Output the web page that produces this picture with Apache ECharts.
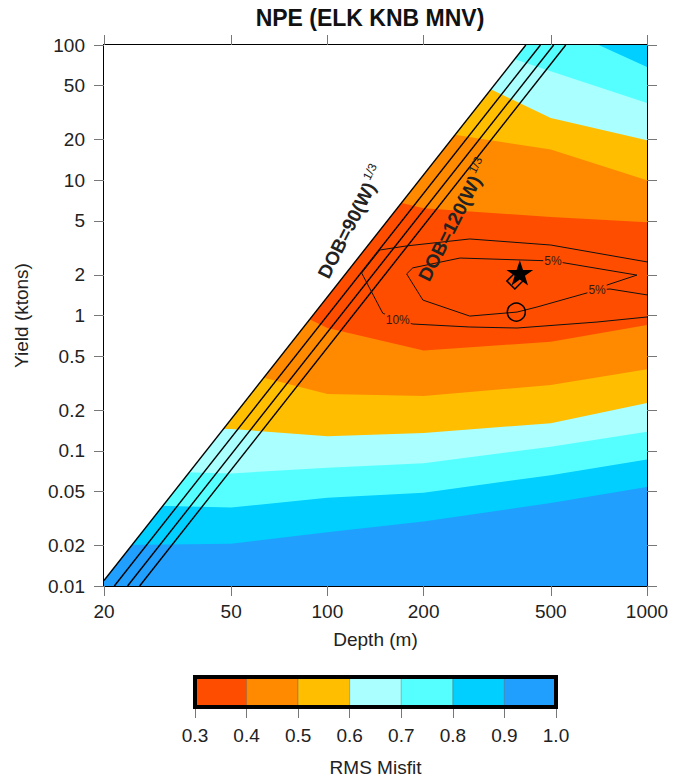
<!DOCTYPE html>
<html><head><meta charset="utf-8">
<script src="https://cdn.jsdelivr.net/npm/echarts@6/dist/echarts.min.js"></script>
<style>html,body{margin:0;padding:0;background:#fff}#c{width:673px;height:780px}</style>
</head><body><div id="c"></div>
<script>
// ---------- data ----------
const depths = [20, 50, 100, 200, 500, 1000];
// contour boundaries (yield, kt) at each depth; upper = above misfit minimum, lower = below
const upper08 = [300, 300, 300, 300, 145, 68.8];
const upper07 = [300, 300, 300, 131, 64, 37.2];
const upper06 = [300, 300, 300, 81.5, 28.9, 19.8];
const upper05 = [100, 60, 30.3, 23.5, 16.9, 10.0];
const upper04 = [50, 20, 9.2, 6.2, 5.35, 4.9];
const lower04 = [3, 1.8, 0.81, 0.55, 0.64, 0.85];
const lower05 = [0.45, 0.40, 0.263, 0.254, 0.306, 0.40];
const lower06 = [0.147, 0.145, 0.128, 0.135, 0.160, 0.225];
const lower07 = [0.072, 0.068, 0.075, 0.081, 0.107, 0.138];
const lower08 = [0.040, 0.038, 0.045, 0.049, 0.066, 0.086];
const lower09 = [0.020, 0.0205, 0.025, 0.030, 0.041, 0.054];

const levels = [0.3, 0.4, 0.5, 0.6, 0.7, 0.8, 0.9, 1.0];
const bandColors = ['rgb(255,77,0)', 'rgb(255,138,0)', 'rgb(255,191,0)', 'rgb(170,255,255)', 'rgb(85,255,255)', 'rgb(0,207,255)', 'rgb(32,159,255)'];

const xRange = [20, 1000];
const yRange = [0.01, 100];
const xTicks = [20, 50, 100, 200, 500, 1000];
const yTicks = [0.01, 0.02, 0.05, 0.1, 0.2, 0.5, 1, 2, 5, 10, 20, 50, 100];
const dobCoeffs = [90, 100, 110, 120];

const contour10 = [[1000, 2.49], [500, 3.32], [279, 3.68], [177, 3.27], [146, 3.05], [128, 2.06], [149, 1.04], [166, 0.93], [185, 0.865], [279, 0.822], [392, 0.808], [698, 0.895], [1000, 0.975]];
const contour5 = [[1000, 1.42], [766, 1.57], [698, 1.54], [630, 1.44], [453, 1.156], [392, 1.06], [279, 0.99], [199, 1.30], [177, 2.03], [185, 2.25], [260, 2.66], [508, 2.53], [930, 1.99], [750, 1.68], [698, 1.54]];
const contourLabels = [[508, 2.53, '5%'], [698, 1.54, '5%'], [166, 0.93, '10%']];
const starPt = [400, 2.0];
const diamondPt = [386, 1.80];
const circlePt = [390, 1.06];
const dobLabels = [[118.5, 4.91, '90'], [249, 5.08, '120']];

// ---------- chart ----------
const FONT = 'Liberation Sans, Arial, Helvetica, sans-serif';
const TXT = '#222';
const FS = 19;
const chart = echarts.init(document.getElementById('c'), null, {renderer: 'svg'});

function fmt(v) { return String(+(+v).toPrecision(6)); }

function band(vals, colorIdx) {
  return {
    type: 'line', xAxisIndex: 0, yAxisIndex: 0,
    data: depths.map((d, i) => [d, vals[i]]),
    symbol: 'none', silent: true, clip: true,
    lineStyle: {width: 0, opacity: 0},
    areaStyle: {color: bandColors[colorIdx], opacity: 1, origin: 'start'}
  };
}

const series = [];
series.push({
  type: 'line', xAxisIndex: 0, yAxisIndex: 0, data: [[xRange[0], yRange[1]], [xRange[1], yRange[1]]],
  symbol: 'none', silent: true, lineStyle: {width: 0, opacity: 0},
  areaStyle: {color: bandColors[5], opacity: 1, origin: 'start'}
});
series.push(band(upper08, 4));
series.push(band(upper07, 3));
series.push(band(upper06, 2));
series.push(band(upper05, 1));
series.push(band(upper04, 0));
series.push(band(lower04, 1));
series.push(band(lower05, 2));
series.push(band(lower06, 3));
series.push(band(lower07, 4));
series.push(band(lower08, 5));
series.push(band(lower09, 6));

// white excluded region above DOB = 90 W^(1/3)
const c0 = dobCoeffs[0];
series.push({
  type: 'line', xAxisIndex: 0, yAxisIndex: 0,
  data: [[xRange[0], Math.pow(xRange[0] / c0, 3)], [c0 * Math.cbrt(yRange[1]), yRange[1]]],
  symbol: 'none', silent: true, lineStyle: {width: 0, opacity: 0},
  areaStyle: {color: '#ffffff', opacity: 1, origin: 'end'}
});

// DOB lines
dobCoeffs.forEach(c => {
  let d0 = c * Math.cbrt(yRange[0]), w0 = yRange[0];
  if (d0 < xRange[0]) { d0 = xRange[0]; w0 = Math.pow(d0 / c, 3); }
  series.push({
    type: 'line', xAxisIndex: 0, yAxisIndex: 0,
    data: [[d0, w0], [c * Math.cbrt(yRange[1]), yRange[1]]],
    symbol: 'none', silent: true, lineStyle: {color: '#000', width: 1.4}
  });
});

// contour lines
[contour10, contour5].forEach(cn => {
  series.push({
    type: 'line', xAxisIndex: 0, yAxisIndex: 0, data: cn,
    symbol: 'none', silent: true, lineStyle: {color: '#111', width: 1}
  });
});

// contour labels
series.push({
  type: 'custom', xAxisIndex: 0, yAxisIndex: 0, silent: true, z: 10,
  data: contourLabels.map(a => [a[0], a[1]]),
  renderItem: (params, api) => {
    const p = api.coord([api.value(0), api.value(1)]);
    return {type: 'text', x: p[0], y: p[1], style: {text: contourLabels[params.dataIndex][2], fontSize: 12, fontFamily: FONT,
      fill: '#3a1a10', align: 'center', verticalAlign: 'middle', backgroundColor: bandColors[0], padding: [0, 1]}};
  }
});

// markers: diamond, circle, star
series.push({
  type: 'custom', xAxisIndex: 0, yAxisIndex: 0, silent: true, z: 10,
  data: [diamondPt],
  renderItem: (params, api) => {
    const p = api.coord([api.value(0), api.value(1)]);
    const r = 8;
    return {type: 'polygon', shape: {points: [[p[0], p[1] - r], [p[0] + r, p[1]], [p[0], p[1] + r], [p[0] - r, p[1]]]},
      style: {fill: 'none', stroke: '#000', lineWidth: 1.5}};
  }
});
series.push({
  type: 'custom', xAxisIndex: 0, yAxisIndex: 0, silent: true, z: 10,
  data: [circlePt],
  renderItem: (params, api) => {
    const p = api.coord([api.value(0), api.value(1)]);
    return {type: 'circle', shape: {cx: p[0], cy: p[1], r: 9}, style: {fill: 'none', stroke: '#000', lineWidth: 1.5}};
  }
});
series.push({
  type: 'custom', xAxisIndex: 0, yAxisIndex: 0, silent: true, z: 11,
  data: [starPt],
  renderItem: (params, api) => {
    const p = api.coord([api.value(0), api.value(1)]);
    const s = 27;
    return {type: 'path', shape: {pathData: 'M50,0 L61.8,35.1 L98.9,35.1 L68.9,56.8 L80.2,91.9 L50,70.2 L19.8,91.9 L31.1,56.8 L1.1,35.1 L38.2,35.1 Z',
      x: p[0] - s / 2, y: p[1] - s / 2 - 1, width: s, height: s * 0.93, layout: 'center'}, style: {fill: '#000'}};
  }
});

// DOB labels
series.push({
  type: 'custom', xAxisIndex: 0, yAxisIndex: 0, silent: true, z: 10,
  data: dobLabels.map(a => [a[0], a[1]]),
  renderItem: (params, api) => {
    const p = api.coord([api.value(0), api.value(1)]);
    return {type: 'text', x: p[0], y: p[1], rotation: 63 * Math.PI / 180,
      style: {text: '{a|DOB=' + dobLabels[params.dataIndex][2] + '(W)}{b|1/3}', align: 'center', verticalAlign: 'middle',
        rich: {
          a: {fontSize: 19, fontWeight: 'bold', fill: TXT, fontFamily: FONT, lineHeight: 24},
          b: {fontSize: 12, fill: TXT, fontFamily: FONT, verticalAlign: 'top', lineHeight: 13, padding: [0, 0, 0, 2]}
        }}};
  }
});

// colorbar
series.push({
  type: 'custom', xAxisIndex: 2, yAxisIndex: 2, silent: true,
  data: bandColors.map((c, i) => [levels[i], levels[i + 1], i]),
  renderItem: (params, api) => {
    const p0 = api.coord([api.value(0), 0]);
    const p1 = api.coord([api.value(1), 1]);
    return {type: 'rect', shape: {x: p0[0], y: p1[1], width: p1[0] - p0[0], height: p0[1] - p1[1]},
      style: {fill: bandColors[api.value(2)], stroke: 'rgba(0,0,0,0.3)', lineWidth: 0.6}};
  }
});
series.push({
  type: 'custom', xAxisIndex: 2, yAxisIndex: 2, silent: true, z: 5,
  data: [[levels[0], levels[levels.length - 1]]],
  renderItem: (params, api) => {
    const p0 = api.coord([api.value(0), 0]);
    const p1 = api.coord([api.value(1), 1]);
    return {type: 'rect', shape: {x: p0[0], y: p1[1], width: p1[0] - p0[0], height: p0[1] - p1[1]},
      style: {fill: 'none', stroke: '#000', lineWidth: 4}};
  }
});

const tickStyle = {lineStyle: {color: '#777', width: 1}, length: 10, inside: false};
const lineAxis = {show: true, lineStyle: {color: '#000', width: 2}};

const option = {
  animation: false,
  backgroundColor: '#fff',
  textStyle: {fontFamily: FONT},
  graphic: [{type: 'text', x: 370, y: 6, style: {text: 'NPE (ELK KNB MNV)', fontSize: 23, fontWeight: 'bold', fill: '#111', fontFamily: FONT, textAlign: 'center'}}],
  grid: [
    {left: 104, right: 26, top: 45, bottom: 194},
    {left: 195, width: 361, top: 677, height: 30}
  ],
  xAxis: [
    {type: 'log', logBase: 10, gridIndex: 0, min: xRange[0], max: xRange[1], position: 'bottom',
     axisLine: lineAxis, splitLine: {show: false}, minorTick: {show: false},
     axisTick: Object.assign({customValues: xTicks}, tickStyle),
     axisLabel: {customValues: xTicks, formatter: fmt, fontSize: FS, color: TXT, margin: 16, fontFamily: FONT},
     name: 'Depth (m)', nameLocation: 'middle', nameGap: 44, nameTextStyle: {fontSize: FS, color: TXT, fontFamily: FONT}},
    {type: 'log', logBase: 10, gridIndex: 0, min: xRange[0], max: xRange[1], position: 'top',
     axisLine: lineAxis, splitLine: {show: false},
     axisTick: Object.assign({customValues: xTicks}, tickStyle),
     axisLabel: {show: false, customValues: xTicks}},
    {type: 'value', gridIndex: 1, min: levels[0], max: levels[levels.length - 1], interval: 0.1,
     axisLine: {show: false}, splitLine: {show: false},
     axisTick: {show: true, length: 11, inside: false, lineStyle: {color: '#777', width: 1}},
     axisLabel: {formatter: v => (+v).toFixed(1), fontSize: FS, color: TXT, margin: 19, fontFamily: FONT},
     name: 'RMS Misfit', nameLocation: 'middle', nameGap: 51, nameTextStyle: {fontSize: FS, color: TXT, fontFamily: FONT}}
  ],
  yAxis: [
    {type: 'log', logBase: 10, gridIndex: 0, min: yRange[0], max: yRange[1], position: 'left',
     axisLine: lineAxis, splitLine: {show: false},
     axisTick: Object.assign({customValues: yTicks}, tickStyle),
     axisLabel: {customValues: yTicks, formatter: fmt, fontSize: FS, color: TXT, margin: 19, fontFamily: FONT},
     name: 'Yield (ktons)', nameLocation: 'middle', nameGap: 73, nameRotate: 90, nameTextStyle: {fontSize: FS, color: TXT, fontFamily: FONT}},
    {type: 'log', logBase: 10, gridIndex: 0, min: yRange[0], max: yRange[1], position: 'right',
     axisLine: lineAxis, splitLine: {show: false},
     axisTick: Object.assign({customValues: yTicks}, tickStyle),
     axisLabel: {show: false, customValues: yTicks}},
    {type: 'value', gridIndex: 1, min: 0, max: 1, show: false}
  ],
  series: series
};
chart.setOption(option);
</script>
</body></html>
